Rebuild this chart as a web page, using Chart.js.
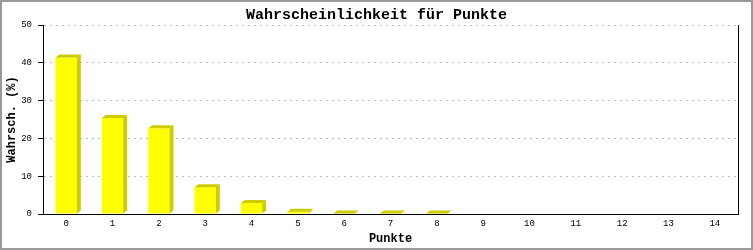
<!DOCTYPE html>
<html>
<head>
<meta charset="utf-8">
<script src="https://cdn.jsdelivr.net/npm/chart.js@4/dist/chart.umd.min.js"></script>
<style>
  html, body { margin: 0; padding: 0; background: #ffffff; }
  #wrap { width: 753px; height: 250px; position: relative; }
</style>
</head>
<body>
<div id="wrap"><canvas id="chartPunkte"></canvas></div>
<script>
// Datos
const punkte = ['0', '1', '2', '3', '4', '5', '6', '7', '8', '9', '10', '11', '12', '13', '14'];
const wahrscheinlichkeit = [41.4, 25.4, 22.7, 7.1, 2.9, 0.6, 0.1, 0.1, 0.1, 0, 0, 0, 0, 0, 0];
const yTicks = [0, 10, 20, 30, 40, 50];

const fuente = "'Liberation Mono', 'DejaVu Sans Mono', monospace";

// Caras laterales y superiores de las barras (efecto 3D)
const barras3D = {
    id: 'barras3D',
    afterDatasetsDraw(chart) {
        const ctx = chart.ctx;
        const meta = chart.getDatasetMeta(0);
        const dx = 4, dy = 3;
        ctx.save();
        ctx.fillStyle = '#cccc00';
        meta.data.forEach((bar, i) => {
            if (!wahrscheinlichkeit[i]) return;
            const izq = bar.x - bar.width / 2;
            const der = bar.x + bar.width / 2;
            const arriba = bar.y;
            const base = bar.base;
            // lateral
            ctx.beginPath();
            ctx.moveTo(der, arriba);
            ctx.lineTo(der + dx, arriba - dy);
            ctx.lineTo(der + dx, base - dy);
            ctx.lineTo(der, base);
            ctx.closePath();
            ctx.fill();
            // superior
            ctx.beginPath();
            ctx.moveTo(izq, arriba);
            ctx.lineTo(izq + dx, arriba - dy);
            ctx.lineTo(der + dx, arriba - dy);
            ctx.lineTo(der, arriba);
            ctx.closePath();
            ctx.fill();
        });
        ctx.restore();
    }
};

// Marco gris alrededor de la imagen
const marco = {
    id: 'marco',
    afterDraw(chart) {
        const ctx = chart.ctx;
        ctx.save();
        ctx.strokeStyle = '#999999';
        ctx.lineWidth = 2;
        ctx.strokeRect(1, 1, chart.width - 2, chart.height - 2);
        ctx.restore();
    }
};

new Chart(document.getElementById('chartPunkte'), {
    type: 'bar',
    data: {
        labels: punkte,
        datasets: [{
            data: wahrscheinlichkeit,
            backgroundColor: '#ffff00',
            borderWidth: 0,
            barPercentage: 0.46,
            categoryPercentage: 1.0
        }]
    },
    options: {
        responsive: true,
        maintainAspectRatio: false,
        animation: false,
        devicePixelRatio: 1,
        layout: { padding: { left: 0, right: 0, top: 0, bottom: 0 } },
        plugins: {
            legend: { display: false },
            tooltip: { enabled: false },
            title: {
                display: true,
                text: 'Wahrscheinlichkeit für Punkte',
                color: '#000000',
                font: { family: fuente, size: 15, weight: 'bold', lineHeight: 1.2 },
                padding: { top: 6, bottom: 1 }
            }
        },
        scales: {
            x: {
                grid: { display: false, drawTicks: false },
                border: { display: true, color: '#000000', width: 1 },
                ticks: {
                    color: '#000000',
                    padding: 4,
                    maxRotation: 0,
                    autoSkip: false,
                    font: { family: fuente, size: 9 }
                },
                title: {
                    display: true,
                    text: 'Punkte',
                    color: '#000000',
                    font: { family: fuente, size: 12, weight: 'bold', lineHeight: 1.2 },
                    padding: { top: 0, bottom: 4 }
                },
                afterFit: s => { s.height = 36; }
            },
            y: {
                min: 0,
                max: 50,
                afterBuildTicks: s => { s.ticks = yTicks.map(v => ({ value: v })); },
                grid: {
                    color: '#c0c0c0',
                    drawTicks: true,
                    tickLength: 5,
                    tickColor: '#000000',
                    tickWidth: 1,
                    tickBorderDash: []
                },
                border: { display: true, color: '#000000', width: 1, dash: [2, 4] },
                ticks: {
                    color: '#000000',
                    padding: 6,
                    font: { family: fuente, size: 9 }
                },
                title: {
                    display: true,
                    text: 'Wahrsch. (%)',
                    color: '#000000',
                    font: { family: fuente, size: 12, weight: 'bold', lineHeight: 1.2 },
                    padding: { top: 5, bottom: 0 }
                },
                afterFit: s => { s.width = 43; }
            },
            y1: {
                position: 'right',
                min: 0,
                max: 50,
                grid: { display: false },
                ticks: { display: false },
                border: { display: true, color: '#000000', width: 1 },
                afterFit: s => { s.width = 15; }
            }
        }
    },
    plugins: [barras3D, marco]
});
</script>
</body>
</html>
